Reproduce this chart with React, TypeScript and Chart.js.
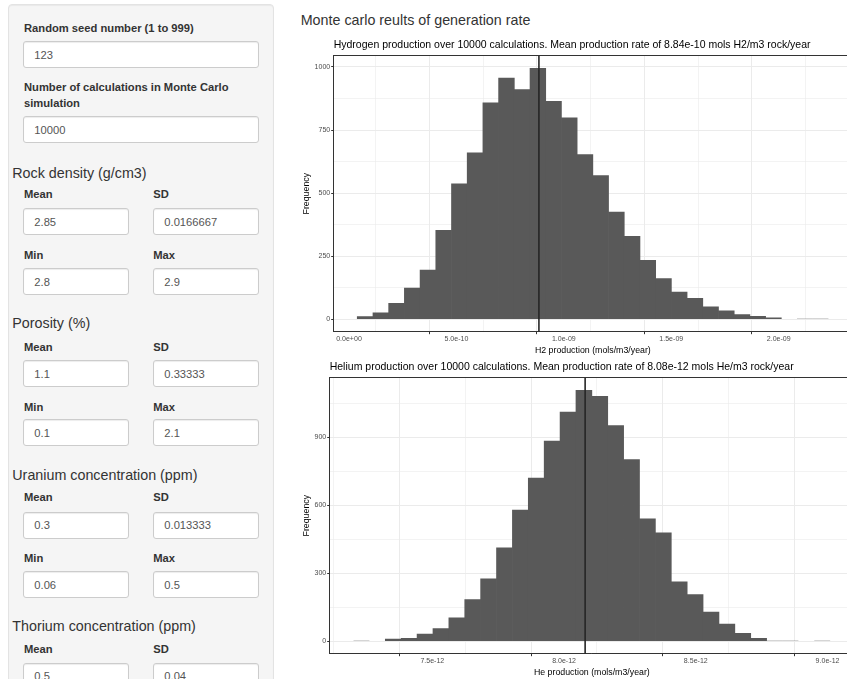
import React, { useEffect, useRef } from 'react';
import { Chart, registerables } from 'chart.js';

Chart.register(...registerables);

const FONT = "'Liberation Sans', Arial, Helvetica, sans-serif";

// ---------- Hydrogen histogram data ----------
const h2Counts = [10, 25, 63, 123, 195, 352, 537, 660, 858, 956, 910, 995, 864, 798, 653, 569, 425, 328, 233, 161, 107, 83, 49, 33, 18, 11, 5, 2, 1, 1];
const h2BinStart = 0.385e-10;
const h2BinWidth = 0.731e-10;
const h2Mean = 8.84e-10;
const h2XMajor = [0, 5e-10, 1e-9, 1.5e-9, 2e-9];
const h2XLabels = ['0.0e+00', '5.0e-10', '1.0e-09', '1.5e-09', '2.0e-09'];
const h2XMinor = [2.5e-10, 7.5e-10, 1.25e-9, 1.75e-9, 2.25e-9];
const h2YMajor = [0, 250, 500, 750, 1000];
const h2YMinor = [125, 375, 625, 875];
const h2Title = 'Hydrogen production over 10000 calculations. Mean production rate of 8.84e-10 mols H2/m3 rock/year';
const h2XTitle = 'H2 production (mols/m3/year)';

// ---------- Helium histogram data ----------
const heCounts = [1, 2, 9, 13, 31, 56, 103, 184, 276, 413, 579, 721, 884, 1012, 1109, 1082, 953, 803, 541, 479, 262, 206, 129, 76, 35, 13, 3, 1, 0, 1];
const heBinStart = 7.201e-12;
const heBinWidth = 0.0603e-12;
const heMean = 8.08e-12;
const heXMajor = [7.5e-12, 8.0e-12, 8.5e-12, 9.0e-12];
const heXLabels = ['7.5e-12', '8.0e-12', '8.5e-12', '9.0e-12'];
const heXMinor = [7.25e-12, 7.75e-12, 8.25e-12, 8.75e-12];
const heYMajor = [0, 300, 600, 900];
const heYMinor = [150, 450, 750, 1050];
const heTitle = 'Helium production over 10000 calculations. Mean production rate of 8.08e-12 mols He/m3 rock/year';
const heXTitle = 'He production (mols/m3/year)';

const yTitle = 'Frequency';
const pageTitle = 'Monte carlo reults of generation rate';

type HistProps = {
  counts: number[];
  binStart: number;
  binWidth: number;
  mean: number;
  xMajor: number[];
  xLabels: string[];
  xMinor: number[];
  yMajor: number[];
  yMinor: number[];
  title: string;
  xTitle: string;
  left: number;
  top: number;
  width: number;
  height: number;
  yAxisWidth: number;
  xAxisHeight: number;
  titlePadTop: number;
  titlePadBottom: number;
};

function near(list: number[], v: number) {
  return list.findIndex((a) => Math.abs(a - v) <= Math.abs(a) * 1e-7 + 1e-30);
}

function Histogram(p: HistProps) {
  const ref = useRef<HTMLCanvasElement | null>(null);
  useEffect(() => {
    if (!ref.current) return;
    const centers = p.counts.map((_, i) => p.binStart + p.binWidth * (i + 0.5));
    const binEnd = p.binStart + p.binWidth * p.counts.length;
    const xExp = (binEnd - p.binStart) * 0.05;
    const xMin = p.binStart - xExp;
    const xMax = binEnd + xExp;
    const maxCount = Math.max(...p.counts);
    const yMin = -0.05 * maxCount;
    const yMax = 1.05 * maxCount;
    const tickFont = { family: FONT, size: 7.04 };
    const titleFont = { family: FONT, size: 8.8 };

    const chart = new Chart(ref.current, {
      type: 'bar',
      data: {
        datasets: [
          {
            type: 'line',
            data: [
              { x: p.mean, y: yMin },
              { x: p.mean, y: yMax },
            ],
            borderColor: '#262626',
            borderWidth: 1.6,
            pointRadius: 0,
            order: 0,
          } as any,
          {
            type: 'bar',
            data: p.counts.map((c, i) => ({ x: centers[i], y: c })),
            backgroundColor: '#595959',
            borderWidth: 0,
            barPercentage: 1,
            categoryPercentage: 1,
            inflateAmount: (c: any) => (c.raw && c.raw.y >= 4 ? 0.33 : 0),
            order: 1,
          } as any,
        ],
      },
      options: {
        animation: false,
        responsive: false,
        maintainAspectRatio: false,
        layout: { padding: 0 },
        plugins: {
          legend: { display: false },
          tooltip: { enabled: false },
          title: {
            display: true,
            text: p.title,
            align: 'start',
            fullSize: false,
            color: '#000',
            font: { family: FONT, size: 10.5, weight: 'normal' },
            padding: { top: p.titlePadTop, bottom: p.titlePadBottom },
          },
        },
        scales: {
          x: {
            type: 'linear',
            position: 'bottom',
            min: xMin,
            max: xMax,
            offset: false,
            afterBuildTicks: (s: any) => {
              s.ticks = [...p.xMajor, ...p.xMinor].sort((a, b) => a - b).map((v) => ({ value: v }));
            },
            afterFit: (s: any) => {
              s.height = p.xAxisHeight;
            },
            ticks: {
              autoSkip: false,
              maxRotation: 0,
              minRotation: 0,
              padding: 0.5,
              color: '#4d4d4d',
              font: tickFont,
              callback: (v: any) => {
                const i = near(p.xMajor, Number(v));
                return i >= 0 ? p.xLabels[i] : '';
              },
            },
            grid: {
              color: '#ebebeb',
              lineWidth: (c: any) => (c.tick && near(p.xMajor, c.tick.value) >= 0 ? 1 : 0.6),
              tickColor: (c: any) => (c.tick && near(p.xMajor, c.tick.value) >= 0 ? '#333333' : 'rgba(0,0,0,0)'),
              tickLength: 2.5,
              tickWidth: 1,
              drawTicks: true,
            },
            border: { display: true, color: '#333333', width: 1 },
            title: {
              display: true,
              text: p.xTitle,
              color: '#000',
              font: titleFont,
              padding: { top: 0, bottom: 2.6 },
            },
          },
          xTop: {
            type: 'linear',
            position: 'top',
            min: xMin,
            max: xMax,
            afterFit: (s: any) => {
              s.height = 0;
            },
            ticks: { display: false },
            grid: { display: false, drawTicks: false },
            border: { display: true, color: '#333333', width: 1 },
          },
          y: {
            type: 'linear',
            position: 'left',
            min: yMin,
            max: yMax,
            afterBuildTicks: (s: any) => {
              s.ticks = [...p.yMajor, ...p.yMinor].sort((a, b) => a - b).map((v) => ({ value: v }));
            },
            afterFit: (s: any) => {
              s.width = p.yAxisWidth;
            },
            ticks: {
              autoSkip: false,
              padding: 1,
              color: '#4d4d4d',
              font: tickFont,
              callback: (v: any) => {
                const i = near(p.yMajor, Number(v));
                return i >= 0 ? String(p.yMajor[i]) : '';
              },
            },
            grid: {
              color: '#ebebeb',
              lineWidth: (c: any) => (c.tick && near(p.yMajor, c.tick.value) >= 0 ? 1 : 0.6),
              tickColor: (c: any) => (c.tick && near(p.yMajor, c.tick.value) >= 0 ? '#333333' : 'rgba(0,0,0,0)'),
              tickLength: 2.5,
              tickWidth: 1,
              drawTicks: true,
            },
            border: { display: true, color: '#333333', width: 1 },
            title: {
              display: true,
              text: yTitle,
              color: '#000',
              font: titleFont,
              padding: { top: 1.4, bottom: 0 },
            },
          },
        },
      } as any,
    });
    return () => chart.destroy();
  }, []);
  return (
    <canvas
      ref={ref}
      width={p.width}
      height={p.height}
      style={{ position: 'absolute', left: p.left, top: p.top, width: p.width, height: p.height }}
    />
  );
}

function Label({ x, cy, text }: { x: number; cy: number; text: string }) {
  return (
    <div
      style={{
        position: 'absolute',
        left: x,
        top: cy - 7,
        lineHeight: '14px',
        fontSize: 11.2,
        fontWeight: 'bold',
        color: '#333',
        whiteSpace: 'nowrap',
      }}
    >
      {text}
    </div>
  );
}

function Heading({ cy, text }: { cy: number; text: string }) {
  return (
    <div
      style={{
        position: 'absolute',
        left: 12.3,
        top: cy - 9,
        lineHeight: '18px',
        fontSize: 14.3,
        color: '#333',
        whiteSpace: 'nowrap',
      }}
    >
      {text}
    </div>
  );
}

function Field({ x, y, w, value }: { x: number; y: number; w: number; value: string }) {
  return (
    <input
      readOnly
      value={value}
      style={{
        position: 'absolute',
        left: x,
        top: y,
        width: w,
        height: 27,
        boxSizing: 'border-box',
        margin: 0,
        border: '1px solid #ccc',
        borderRadius: 3,
        background: '#fff',
        boxShadow: 'inset 0 1px 1px rgba(0,0,0,0.075)',
        fontFamily: FONT,
        fontSize: 11.2,
        color: '#555',
        padding: '0 0 0 10px',
        outline: 'none',
      }}
    />
  );
}

const sections = [
  { h: 'Rock density (g/cm3)', hy: 172.7, l1: 194.3, i1: 208.3, l2: 255, i2: 268.3, v: ['2.85', '0.0166667', '2.8', '2.9'] },
  { h: 'Porosity (%)', hy: 322.7, l1: 346.7, i1: 360.3, l2: 406.7, i2: 419.3, v: ['1.1', '0.33333', '0.1', '2.1'] },
  { h: 'Uranium concentration (ppm)', hy: 475, l1: 497.3, i1: 511.7, l2: 557.7, i2: 571.3, v: ['0.3', '0.013333', '0.06', '0.5'] },
];

export default function App() {
  return (
    <div
      style={{
        position: 'fixed',
        left: 0,
        top: 0,
        width: 847,
        height: 679,
        overflow: 'hidden',
        background: '#fff',
        fontFamily: FONT,
      }}
    >
      {/* Sidebar */}
      <div
        style={{
          position: 'absolute',
          left: 8,
          top: 4,
          width: 266,
          height: 720,
          boxSizing: 'border-box',
          background: '#f5f5f5',
          border: '1px solid #e3e3e3',
          borderRadius: 4,
          boxShadow: 'inset 0 1px 1px rgba(0,0,0,0.05)',
        }}
      />
      <Label x={24} cy={27.7} text="Random seed number (1 to 999)" />
      <Field x={23.3} y={41} w={235.7} value="123" />
      <div
        style={{
          position: 'absolute',
          left: 24,
          top: 80.4,
          width: 236,
          lineHeight: '15.7px',
          fontSize: 11.2,
          fontWeight: 'bold',
          color: '#333',
        }}
      >
        Number of calculations in Monte Carlo simulation
      </div>
      <Field x={23.3} y={116.3} w={235.7} value="10000" />
      {sections.map((s) => (
        <React.Fragment key={s.h}>
          <Heading cy={s.hy} text={s.h} />
          <Label x={24} cy={s.l1} text="Mean" />
          <Label x={153.3} cy={s.l1} text="SD" />
          <Field x={23.3} y={s.i1} w={105.4} value={s.v[0]} />
          <Field x={153.3} y={s.i1} w={105.7} value={s.v[1]} />
          <Label x={24} cy={s.l2} text="Min" />
          <Label x={153.3} cy={s.l2} text="Max" />
          <Field x={23.3} y={s.i2} w={105.4} value={s.v[2]} />
          <Field x={153.3} y={s.i2} w={105.7} value={s.v[3]} />
        </React.Fragment>
      ))}
      <Heading cy={625.7} text="Thorium concentration (ppm)" />
      <Label x={24} cy={649.3} text="Mean" />
      <Label x={153.3} cy={649.3} text="SD" />
      <Field x={23.3} y={662.7} w={105.4} value="0.5" />
      <Field x={153.3} y={662.7} w={105.7} value="0.04" />

      {/* Main panel */}
      <div
        style={{
          position: 'absolute',
          left: 300.7,
          top: 11,
          lineHeight: '18px',
          fontSize: 14.3,
          color: '#333',
          whiteSpace: 'nowrap',
        }}
      >
        {pageTitle}
      </div>
      <Histogram
        counts={h2Counts}
        binStart={h2BinStart}
        binWidth={h2BinWidth}
        mean={h2Mean}
        xMajor={h2XMajor}
        xLabels={h2XLabels}
        xMinor={h2XMinor}
        yMajor={h2YMajor}
        yMinor={h2YMinor}
        title={h2Title}
        xTitle={h2XTitle}
        left={300}
        top={30}
        width={552}
        height={328}
        yAxisWidth={33.7}
        xAxisHeight={26.3}
        titlePadTop={8.7}
        titlePadBottom={4.4}
      />
      <Histogram
        counts={heCounts}
        binStart={heBinStart}
        binWidth={heBinWidth}
        mean={heMean}
        xMajor={heXMajor}
        xLabels={heXLabels}
        xMinor={heXMinor}
        yMajor={heYMajor}
        yMinor={heYMinor}
        title={heTitle}
        xTitle={heXTitle}
        left={300}
        top={352}
        width={554}
        height={328}
        yAxisWidth={29.7}
        xAxisHeight={26.3}
        titlePadTop={8.4}
        titlePadBottom={4.7}
      />
    </div>
  );
}
